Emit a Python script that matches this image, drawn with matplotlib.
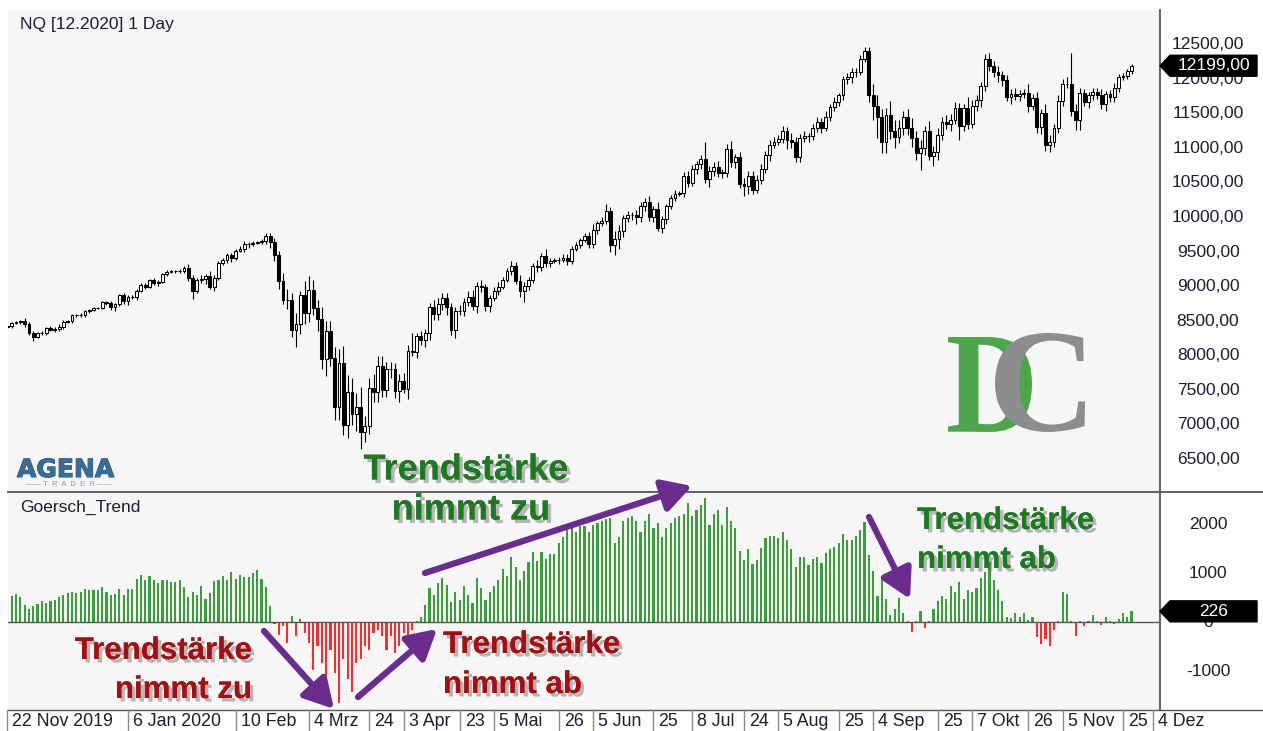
import matplotlib
matplotlib.use('Agg')
import matplotlib.pyplot as plt
import matplotlib.patheffects as pe
from matplotlib.font_manager import FontProperties
from matplotlib.patches import PathPatch, Polygon
from matplotlib.textpath import TextPath
from matplotlib.transforms import Affine2D, blended_transform_factory
import numpy as np
import pandas as pd

W, H = 1263, 731
plt.rcParams['font.family'] = ['Liberation Sans', 'DejaVu Sans']

# trading days of the NQ 12.2020 contract shown (full closures left out)
closed_days = ['2019-11-28', '2019-12-25', '2020-01-01', '2020-04-10']
days = pd.bdate_range('2019-11-21', '2020-12-04')
days = days[~days.isin(pd.to_datetime(closed_days))]

# daily closes (Nov 21 2019 .. Nov 27 2020)
closes = np.array([
    8420, 8430, 8470, 8480, 8500, 8450, 8330, 8270, 8320, 8330,
    8400, 8370, 8390, 8420, 8490, 8500, 8580, 8580, 8590, 8640,
    8660, 8690, 8690, 8770, 8760, 8700, 8740, 8870, 8790, 8850,
    8850, 8940, 9020, 9000, 9090, 9050, 9070, 9180, 9210, 9220,
    9220, 9230, 9270, 9120, 8940, 9090, 9110, 9150, 8990, 9130,
    9340, 9380, 9450, 9410, 9520, 9540, 9620, 9610, 9630, 9640,
    9660, 9730, 9640, 9450, 9080, 8800, 8810, 8370, 8460, 8880,
    8610, 8950, 8690, 8530, 7950, 8350, 7970, 7260, 7890, 7000,
    7470, 7150, 7250, 6890, 6980, 7530, 7470, 7850, 7500, 7800,
    7810, 7480, 7630, 7520, 8070, 8050, 8280, 8230, 8320, 8700,
    8600, 8750, 8830, 8700, 8370, 8640, 8640, 8780, 8850, 8720,
    9010, 9000, 8720, 8830, 8930, 9000, 9100, 9220, 9300, 9080,
    8930, 9010, 9090, 9300, 9280, 9440, 9340, 9370, 9380, 9390,
    9410, 9370, 9550, 9600, 9670, 9730, 9620, 9820, 9920, 9950,
    10090, 9600, 9690, 9800, 9990, 10030, 10040, 10000, 10170, 10230,
    10010, 10130, 9850, 9980, 10160, 10280, 10340, 10350, 10600, 10500,
    10700, 10770, 10850, 10560, 10680, 10730, 10650, 10650, 10990, 10800,
    10870, 10490, 10460, 10600, 10400, 10550, 10700, 10900, 11050, 11100,
    11140, 11250, 11130, 11090, 10880, 11150, 11180, 11180, 11300, 11380,
    11300, 11460, 11600, 11680, 11770, 12000, 12030, 12110, 12110, 12290,
    12420, 11780, 11620, 11450, 11090, 11490, 11260, 11160, 11290, 11450,
    11290, 11150, 10940, 11000, 11250, 10890, 10950, 11200, 11380, 11360,
    11420, 11580, 11330, 11590, 11360, 11620, 11700, 11900, 12290, 12200,
    12110, 12070, 11990, 11750, 11790, 11760, 11790, 11810, 11620, 11730,
    11310, 11520, 11050, 11100, 11290, 11690, 11940, 11930, 11550, 11420,
    11800, 11670, 11770, 11820, 11780, 11640, 11790, 11740, 11880, 12030,
    12050, 12120, 12199])

# wick lengths above / below the candle body (points)
wick_hi = np.array([
    20, 25, 15, 20, 10, 40, 35, 20, 25,
    20, 15, 25, 20, 30, 25, 20, 15, 20, 25,
    15, 20, 10, 15, 20, 25, 30, 20, 25, 30,
    25, 20, 30, 25, 30, 20, 40, 25, 20, 30,
    15, 25, 30, 20, 60, 40, 30, 50, 30, 80,
    40, 30, 40, 30, 40, 30, 40, 35, 30, 25,
    20, 30, 50, 40, 60, 60, 120, 150, 100, 150,
    60, 200, 200, 150, 120, 180, 150, 150, 150, 200,
    250, 250, 200, 200, 300, 150, 150, 200, 150, 150,
    100, 100, 80, 100, 120, 80, 250, 50, 80, 60,
    60, 100, 80, 70, 70, 60, 60, 90, 60, 80,
    100, 50, 80, 40, 40, 60, 60, 40, 50, 70,
    60, 80, 50, 50, 40, 80, 40, 100, 40, 30,
    40, 60, 60, 40, 50, 40, 40, 60, 90, 30,
    60, 100, 60, 120, 90, 50, 60, 40, 70, 50,
    50, 80, 40, 90, 40, 40, 40, 60, 30, 60,
    80, 60, 50, 60, 240, 60, 70, 90, 60, 70,
    120, 50, 80, 80, 70, 80, 60, 80, 60, 70,
    60, 50, 80, 60, 90, 80, 60, 70, 50, 50,
    70, 60, 80, 50, 60, 40, 50, 60, 50, 60,
    60, 50, 50, 150, 150, 120, 100, 200, 150, 120,
    100, 120, 150, 100, 120, 80, 150, 80, 100, 70,
    100, 80, 90, 80, 60, 150, 80, 80, 70, 80,
    100, 70, 80, 60, 80, 70, 80, 60, 50, 120,
    60, 90, 50, 120, 100, 70, 80, 60, 100, 450,
    100, 70, 60, 50, 50, 60, 80, 50, 60, 70,
    50, 40, 30, 30])
wick_lo = np.array([
    30, 20, 25, 15, 20, 30, 30, 60, 20,
    25, 30, 20, 25, 30, 40, 20, 25, 15, 20,
    30, 20, 15, 10, 20, 30, 40, 60, 20, 50,
    60, 30, 40, 20, 30, 25, 35, 40, 20, 25,
    20, 30, 25, 40, 40, 120, 30, 40, 80, 30,
    60, 40, 30, 40, 50, 30, 25, 40, 50, 30,
    20, 30, 40, 80, 80, 120, 60, 120, 100, 250,
    150, 150, 120, 100, 180, 150, 250, 120, 200, 200,
    150, 200, 150, 250, 250, 150, 120, 150, 150, 100,
    100, 120, 100, 150, 60, 150, 50, 80, 80, 100,
    100, 80, 80, 90, 120, 80, 120, 50, 70, 60,
    60, 100, 80, 80, 90, 40, 60, 40, 40, 50,
    40, 80, 150, 60, 40, 70, 50, 60, 60, 30,
    50, 40, 60, 50, 40, 40, 30, 60, 60, 60,
    50, 40, 100, 150, 150, 80, 50, 60, 90, 60,
    70, 60, 80, 50, 70, 70, 40, 40, 30, 50,
    60, 50, 70, 60, 60, 120, 80, 60, 80, 60,
    70, 80, 60, 150, 120, 60, 50, 70, 60, 80,
    40, 50, 60, 140, 90, 80, 70, 60, 80, 50,
    60, 70, 50, 60, 50, 60, 70, 60, 80, 70,
    50, 40, 100, 200, 300, 150, 150, 120, 150, 80,
    100, 100, 130, 100, 250, 100, 60, 150, 120, 80,
    80, 100, 60, 200, 80, 80, 60, 80, 100, 60,
    70, 80, 100, 80, 60, 100, 60, 70, 60, 90,
    60, 80, 100, 80, 100, 80, 60, 80, 60, 80,
    150, 150, 60, 80, 70, 60, 70, 100, 70, 60,
    60, 40, 40, 40])

# Goersch_Trend indicator, one value per bar
trend = np.array([
    500,
    530, 540, 580, 530, 360, 270, 340, 370, 430, 390, 430, 460, 530, 560, 600,
    630, 610, 630, 680, 670, 670, 670, 730, 630, 560, 580, 680, 560, 680, 680,
    900, 970, 880, 950, 870, 800, 870, 860, 820, 820, 880, 730, 530, 630, 560,
    750, 480, 600, 840, 880, 950, 870, 1040, 900, 970, 940, 940, 1010, 1070,
    900, 730, 340,
    -30, -250, -80, -420, 140, -290, 70, -220, -420, -970, -490, -830, -1580,
    -560, -1040, -1650, -760, -1170, -1440, -830, -760, -490, -560, -220, -150,
    -290,
    -560, -280, -630, -490, -210, -300, -150, 20,
    100, 350, 700, 560, 810, 920, 770, 420, 630, 460, 740, 560, 390, 920, 700,
    460, 630, 740, 880, 1090, 950, 1340, 1130, 880, 1060, 1230, 1440, 1270,
    1440, 1300, 1410, 1410, 1620, 1760, 1900, 1970,
    1860, 1970, 1970, 1860, 2000, 2040, 2080, 2120, 2150, 1640, 1750, 2080,
    2150, 2190, 2080, 1860, 2080, 2230, 1930, 2040, 1750, 1930, 2040, 2150,
    2190, 2230, 2450, 2190, 2300, 2410, 2550, 2010, 2230, 2300, 2010, 2370,
    2080, 1930, 1460, 1280, 1500, 1200, 1280, 1530,
    1740, 1780, 1780, 1740, 1860, 1700, 1500, 1140, 1340, 1340, 1180, 1300,
    1340, 1220, 1420, 1500, 1540, 1620, 1820, 1700, 1700, 1780, 1900, 2060,
    1380, 1060, 550, 900, 470, 150, 270, 510, 190, 30, -200, 20, 230, -120,
    30, 270, 430, 550, 470,
    750, 630, 830, 470, 670, 630, 710, 910, 1030, 1230, 870, 670, 440, 120,
    80, 200, 120, 200, 40, 120, -300, -450, -350, -480, -150, 20, 630, 590,
    30, -280, 20, -80, 20, 160, 30, -50, 120, 20, -40, 60, 200, 120, 226])

price_ticks = [12500, 12000, 11500, 11000, 10500, 10000, 9500, 9000,
               8500, 8000, 7500, 7000, 6500]
trend_ticks = [2000, 1000, 0, -1000]

tick_dates = ['2019-11-22', '2020-01-06', '2020-02-10', '2020-03-04', '2020-03-24',
              '2020-04-03', '2020-04-23', '2020-05-05', '2020-05-26', '2020-06-05',
              '2020-06-25', '2020-07-08', '2020-07-24', '2020-08-05', '2020-08-25',
              '2020-09-04', '2020-09-25', '2020-10-07', '2020-10-26', '2020-11-05',
              '2020-11-25', '2020-12-04']
tick_labels = ['22 Nov 2019', '6 Jan 2020', '10 Feb', '4 Mrz', '24', '3 Apr', '23',
               '5 Mai', '26', '5 Jun', '25', '8 Jul', '24', '5 Aug', '25', '4 Sep',
               '25', '7 Okt', '26', '5 Nov', '25', '4 Dez']

BG = '#f6f6f6'
TXT = '#1c1c30'
LINE = '#555555'
PURPLE = '#6b2c90'

fig = plt.figure(figsize=(W / 100, H / 100), dpi=100, facecolor='white')
ax = fig.add_axes([8 / W, 1 - 492 / H, 1152 / W, 482 / H], facecolor=BG)
ax2 = fig.add_axes([8 / W, 21 / H, 1152 / W, 218 / H], facecolor=BG)
ov = fig.add_axes([0, 0, 1, 1], zorder=10)
ov.set_xlim(0, W)
ov.set_ylim(0, H)
ov.axis('off')
ov.patch.set_alpha(0)

for a in (ax, ax2):
    a.set_xlim(1.14, 268.6)
    a.set_xticks([])
    a.set_yticks([])
    for s in a.spines.values():
        s.set_visible(False)

# candles
x = np.arange(len(closes))
opens = np.r_[closes[0], closes[:-1]]
highs = np.maximum(opens, closes) + wick_hi
lows = np.minimum(opens, closes) - wick_lo
up = closes >= opens
ax.vlines(x, lows, highs, color='black', lw=0.8, zorder=1)
ax.bar(x, np.maximum(np.abs(closes - opens), 4), bottom=np.minimum(opens, closes),
       width=0.66, color=np.where(up, 'white', 'black'), edgecolor='black',
       linewidth=0.75, zorder=2)
ax.set_ylim(6022, 13007)

# indicator histogram
ax2.bar(x, trend, width=0.5, color=np.where(trend >= 0, '#3a9f3a', '#ff2b2b'), zorder=2)
ax2.axhline(0, color=LINE, lw=1, zorder=3)
ax2.set_ylim(-1801, 2678)

# right axis labels
tr1 = blended_transform_factory(fig.transFigure, ax.transData)
for v in price_ticks:
    ax.text(1208 / W, v, f'{v},00', transform=tr1, ha='center', va='center',
            fontsize=12.5, color=TXT)
tr2 = blended_transform_factory(fig.transFigure, ax2.transData)
for v in trend_ticks:
    # the zero label sits mostly behind the value tag, as in the original
    ax2.text(1208 / W, v, f'{v}', transform=tr2, ha='center', va='center',
             fontsize=12.5, color=TXT)


def tag(axis, value, label):
    yp = axis.transData.transform((0, value))[1]
    ov.add_patch(Polygon([(1160, yp), (1170, yp + 10.5), (1257, yp + 10.5),
                          (1257, yp - 10.5), (1170, yp - 10.5)],
                         closed=True, fc='black', ec='black', zorder=5))
    ov.text(1214, yp, label, ha='center', va='center', color='white',
            fontsize=12.5, zorder=6)


tag(ax, closes[-1], f'{closes[-1]},00')
tag(ax2, trend[-1], f'{trend[-1]}')

# frame lines
ov.plot([8, W], [H - 492, H - 492], color=LINE, lw=1.3)
ov.plot([8, W], [21, 21], color=LINE, lw=1.0)
ov.plot([1160, 1160], [21, H - 10], color=LINE, lw=1.3)

# date labels along the bottom
for d, lab in zip(tick_dates, tick_labels):
    xd = ax2.transData.transform((days.get_loc(pd.Timestamp(d)), 0))[0]
    ov.plot([xd, xd], [0, 21], color='#8a8a8a', lw=1.0)
    ov.text(xd + 5, 10, lab, ha='left', va='center', fontsize=12.8, color=TXT)

ov.text(20, H - 25, 'NQ [12.2020] 1 Day', ha='left', va='center', fontsize=12.5, color=TXT)
ov.text(20, H - 507, 'Goersch_Trend', ha='left', va='center', fontsize=12.5, color=TXT)

# AgenaTrader logo
ov.text(17, H - 470, 'AGENA', ha='left', va='center', fontsize=18, fontweight='bold',
        family='DejaVu Sans', color='#3a6d96',
        path_effects=[pe.withStroke(linewidth=0.8, foreground='#2b5577')])
ov.text(69, H - 485, '\u2014\u2014 T  R  A  D  E  R \u2014\u2014', ha='center', va='center',
        fontsize=5.5, color='#8c9aa6')


# DC logo
def glyph(ch, x0, x1, ytop, ybot, color):
    tp = TextPath((0, 0), ch, size=100,
                  prop=FontProperties(family='Liberation Serif', weight='bold'))
    bb = tp.get_extents()
    t = Affine2D().translate(-bb.x0, -bb.y0).scale((x1 - x0) / bb.width,
                                                   (ybot - ytop) / bb.height)
    t = t.translate(x0, H - ybot)
    ov.add_patch(PathPatch(t.transform_path(tp), fc=color, ec='none', zorder=2))


glyph('D', 948, 1032, 337, 432, '#4ea64b')
glyph('C', 995, 1085, 333, 432, '#8d8d8d')

# annotations
shadow = [pe.withSimplePatchShadow(offset=(2.5, -2.5), shadow_rgbFace='#666666', alpha=0.45),
          pe.Normal()]
GREEN = '#1d7a22'
RED = '#a30f12'
notes = [
    ('Trendstärke', 466, 470, 'center', GREEN, 26),
    ('nimmt zu', 471, 510, 'center', GREEN, 26),
    ('Trendstärke', 252, 651, 'right', RED, 22.5),
    ('nimmt zu', 252, 690, 'right', RED, 22.5),
    ('Trendstärke', 443, 645, 'left', RED, 22.5),
    ('nimmt ab', 443, 685, 'left', RED, 22.5),
    ('Trendstärke', 917, 521, 'left', GREEN, 22.5),
    ('nimmt ab', 917, 560, 'left', GREEN, 22.5),
]
for s, xp, yp, ha, c, fs in notes:
    ov.text(xp, H - yp, s, ha=ha, va='center', fontsize=fs, fontweight='bold',
            color=c, path_effects=shadow, zorder=7)

arrows = [((264, 631), (334, 709)), ((358, 697), (437, 629)),
          ((425, 573), (692, 486)), ((869, 517), (910, 599))]
for (x0, y0), (x1, y1) in arrows:
    ov.annotate('', xy=(x1, H - y1), xytext=(x0, H - y0),
                arrowprops=dict(arrowstyle='-|>,head_length=0.8,head_width=0.45',
                                lw=4.5, color=PURPLE, mutation_scale=22,
                                shrinkA=0, shrinkB=0), zorder=8)

fig.savefig('out.png', dpi=100, facecolor='white')
